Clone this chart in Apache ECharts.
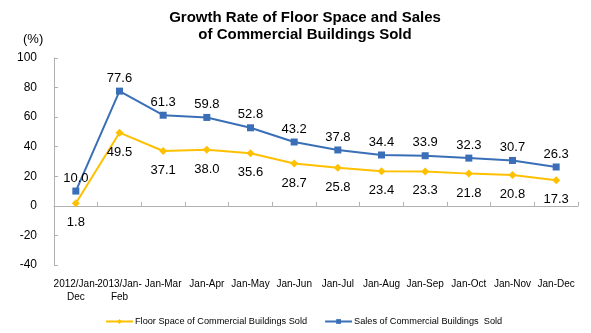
<!DOCTYPE html>
<html><head><meta charset="utf-8">
<script src="https://cdn.jsdelivr.net/npm/echarts@6/dist/echarts.min.js"></script>
<style>html,body{margin:0;padding:0;background:#fff}#c{width:591px;height:333px}</style>
</head><body><div id="c"></div>
<script>
const categories = ['2012/Jan-\nDec','2013/Jan-\nFeb','Jan-Mar','Jan-Apr','Jan-May','Jan-Jun','Jan-Jul','Jan-Aug','Jan-Sep','Jan-Oct','Jan-Nov','Jan-Dec'];
const floorSpace = [1.8,49.5,37.1,38.0,35.6,28.7,25.8,23.4,23.3,21.8,20.8,17.3];
const sales = [10.0,77.6,61.3,59.8,52.8,43.2,37.8,34.4,33.9,32.3,30.7,26.3];
const floorName = 'Floor Space of Commercial Buildings Sold';
const salesName = 'Sales of Commercial Buildings  Sold';
const FONT = '"Liberation Sans", Arial, sans-serif';
const fmt = p => Number(p.value).toFixed(1);
const chart = echarts.init(document.getElementById('c'));
chart.setOption({
  animation:false,
  textStyle:{fontFamily:FONT},
  title:{text:'Growth Rate of Floor Space and Sales\nof Commercial Buildings Sold',left:300,top:4,textAlign:'center',
    textStyle:{fontSize:15,fontWeight:'bold',color:'#000',lineHeight:17,fontFamily:FONT}},
  graphic:[{type:'text',left:23,top:33,style:{text:'(%)',font:'13px '+FONT,fill:'#000'}}],
  legend:{bottom:2,left:100,itemGap:17,itemWidth:27,itemHeight:6,
    textStyle:{fontSize:9.2,color:'#000',fontFamily:FONT,padding:[0,0,0,-3]},
    data:[{name:floorName,itemStyle:{borderWidth:0}},{name:salesName,itemStyle:{borderWidth:0}}]},
  grid:{left:54,right:13,top:58,bottom:68},
  xAxis:[{type:'category',data:categories,boundaryGap:true,position:'bottom',
    axisLine:{show:false,onZero:false},axisTick:{show:false},
    axisLabel:{color:'#000',fontSize:10,interval:0,margin:13,lineHeight:13}},
   {type:'category',data:categories,boundaryGap:true,position:'bottom',
    axisLine:{show:true,onZero:true,lineStyle:{color:'#b0b0b0'}},
    axisTick:{show:true,inside:true,interval:0,length:4,lineStyle:{color:'#b0b0b0'}},
    axisLabel:{show:false}}],
  yAxis:{type:'value',min:-40,max:100,interval:20,
    axisLine:{show:true,lineStyle:{color:'#b0b0b0'}},axisTick:{show:true,inside:true,length:4,lineStyle:{color:'#b0b0b0'}},
    splitLine:{show:false},axisLabel:{color:'#000',fontSize:12,margin:17}},
  series:[
   {name:floorName,type:'line',data:floorSpace,symbol:'diamond',symbolSize:8,
    itemStyle:{color:'#FFC000'},lineStyle:{color:'#FFC000',width:2},
    label:{show:true,position:'bottom',distance:9,fontSize:13,color:'#000',formatter:fmt}},
   {name:salesName,type:'line',data:sales,symbol:'rect',symbolSize:7,
    itemStyle:{color:'#3A6FB7'},lineStyle:{color:'#3A6FB7',width:2},
    label:{show:true,position:'top',distance:3,fontSize:13,color:'#000',formatter:fmt}}
  ]
});
</script></body></html>
